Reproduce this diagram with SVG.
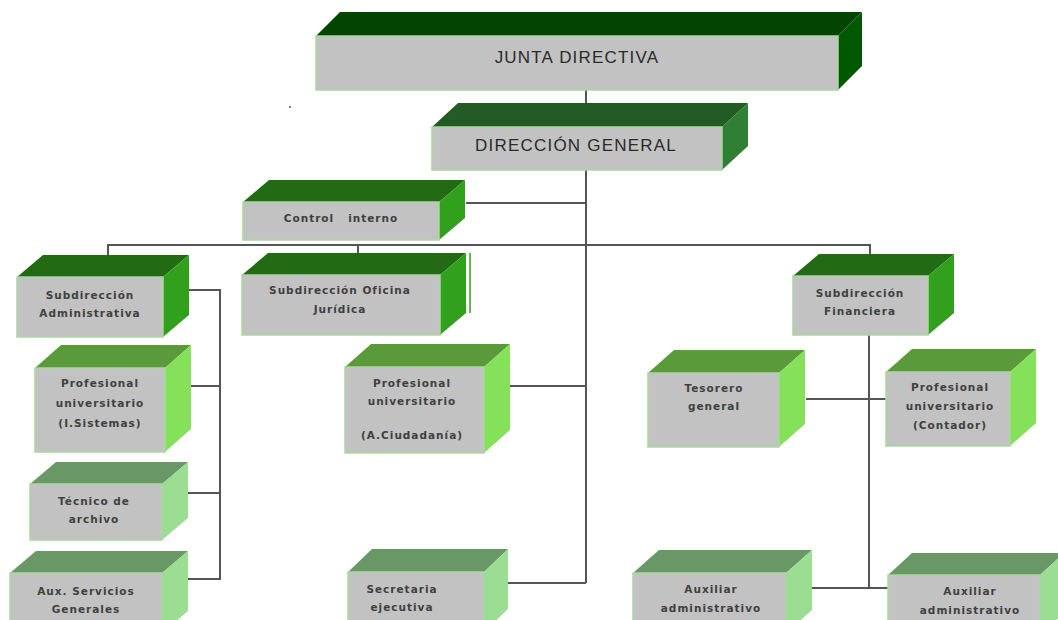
<svg xmlns="http://www.w3.org/2000/svg" width="1058" height="620" viewBox="0 0 1058 620">
<style>
.front{fill:#c2c2c2;stroke:#a9d79f;stroke-width:1.5}
.t1{fill:#024402}.r1{fill:#015801}
.t2{fill:#235b24}.r2{fill:#2f7f35}
.t3{fill:#236a15}.r3{fill:#31a01d}
.t4{fill:#5b9a3a}.r4{fill:#85e05a}
.t5{fill:#699866}.r5{fill:#9bdd92}
.big{font-family:"Liberation Sans","DejaVu Sans",sans-serif;font-size:17px;fill:#2a2a2a;text-anchor:middle;letter-spacing:1.2px}
.sm{font-family:"DejaVu Sans","Liberation Sans",sans-serif;font-size:10.5px;font-weight:bold;fill:#404040;text-anchor:middle;letter-spacing:1px;white-space:pre}
.ln{fill:none;stroke:#555;stroke-width:2}
</style>
<rect width="1058" height="620" fill="#fff"/>
<g id="connectors">
<path class="ln" d="M586 90V128M586 170V583M466 203H586M108 256V245H870V255M358 245V253M510 386H586M508 583H586"/>
<path class="ln" d="M188 290H220V580M190 386H220M188 493H220M188 579H220"/>
<path class="ln" d="M869 335V588M806 399H893M812 588H888"/>
<circle cx="290" cy="107" r="1" fill="#555"/>
</g>
<g id="junta">
<polygon class="t1" points="316,36 340,12 862,12 838,36"/>
<polygon class="r1" points="838,36 862,12 862,66 838,90"/>
<rect class="front" x="316" y="36" width="522" height="54"/>
<text class="big" x="577" y="63">JUNTA DIRECTIVA</text>
</g>
<g id="direccion">
<polygon class="t2" points="432,127 458,103 748,103 722,127"/>
<polygon class="r2" points="722,127 748,103 748,146 722,170"/>
<rect class="front" x="432" y="127" width="290" height="43"/>
<text class="big" x="576" y="151">DIRECCIÓN GENERAL</text>
</g>
<g id="control">
<polygon class="t3" points="243,202 269,180 465,180 439,202"/>
<polygon class="r3" points="439,202 465,180 465,218 439,240"/>
<rect class="front" x="243" y="202" width="196" height="38"/>
<text class="sm" x="341" y="222">Control   interno</text>
</g>
<g id="subadmin">
<polygon class="t3" points="17,277 43,255 189,255 163,277"/>
<polygon class="r3" points="163,277 189,255 189,315 163,337"/>
<rect class="front" x="17" y="277" width="146" height="60"/>
<text class="sm" x="90" y="299">Subdirección</text>
<text class="sm" x="90" y="317">Administrativa</text>
</g>
<g id="subjur">
<polygon class="t3" points="242,275 268,253 466,253 440,275"/>
<polygon class="r3" points="440,275 466,253 466,313 440,335"/>
<line x1="470" y1="253" x2="470" y2="313" stroke="#31a01d" stroke-width="1.5"/>
<rect class="front" x="242" y="275" width="198" height="60"/>
<text class="sm" x="340" y="294">Subdirección Oficina</text>
<text class="sm" x="340" y="313">Jurídica</text>
</g>
<g id="subfin">
<polygon class="t3" points="793,276 819,254 954,254 928,276"/>
<polygon class="r3" points="928,276 954,254 954,313 928,335"/>
<rect class="front" x="793" y="276" width="135" height="59"/>
<text class="sm" x="860" y="297">Subdirección</text>
<text class="sm" x="860" y="315">Financiera</text>
</g>
<g id="prof-sistemas">
<polygon class="t4" points="35,368 61,345 191,345 165,368"/>
<polygon class="r4" points="165,368 191,345 191,429 165,452"/>
<rect class="front" x="35" y="368" width="130" height="84"/>
<text class="sm" x="100" y="387">Profesional</text>
<text class="sm" x="100" y="407">universitario</text>
<text class="sm" x="100" y="427">(I.Sistemas)</text>
</g>
<g id="tecnico">
<polygon class="t5" points="30,484 56,462 188,462 162,484"/>
<polygon class="r5" points="162,484 188,462 188,518 162,540"/>
<rect class="front" x="30" y="484" width="132" height="56"/>
<text class="sm" x="94" y="505">Técnico de</text>
<text class="sm" x="94" y="523">archivo</text>
</g>
<g id="aux-servicios">
<polygon class="t5" points="10,573 36,551 188,551 162,573"/>
<polygon class="r5" points="162,573 188,551 188,611 162,633"/>
<rect class="front" x="10" y="573" width="152" height="60"/>
<text class="sm" x="86" y="595">Aux. Servicios</text>
<text class="sm" x="86" y="613">Generales</text>
</g>
<g id="prof-ciudadania">
<polygon class="t4" points="345,367 371,344 510,344 484,367"/>
<polygon class="r4" points="484,367 510,344 510,430 484,453"/>
<rect class="front" x="345" y="367" width="139" height="86"/>
<text class="sm" x="412" y="387">Profesional</text>
<text class="sm" x="412" y="405">universitario</text>
<text class="sm" x="412" y="439">(A.Ciudadanía)</text>
</g>
<g id="secretaria">
<polygon class="t5" points="348,572 372,549 508,549 484,572"/>
<polygon class="r5" points="484,572 508,549 508,609 484,632"/>
<rect class="front" x="348" y="572" width="136" height="60"/>
<text class="sm" x="402" y="593">Secretaria</text>
<text class="sm" x="402" y="611">ejecutiva</text>
</g>
<g id="tesorero">
<polygon class="t4" points="648,373 674,350 805,350 779,373"/>
<polygon class="r4" points="779,373 805,350 805,424 779,447"/>
<rect class="front" x="648" y="373" width="131" height="74"/>
<text class="sm" x="714" y="392">Tesorero</text>
<text class="sm" x="714" y="410">general</text>
</g>
<g id="prof-contador">
<polygon class="t4" points="886,372 912,349 1036,349 1010,372"/>
<polygon class="r4" points="1010,372 1036,349 1036,423 1010,446"/>
<rect class="front" x="886" y="372" width="124" height="74"/>
<text class="sm" x="950" y="391">Profesional</text>
<text class="sm" x="950" y="410">universitario</text>
<text class="sm" x="950" y="429">(Contador)</text>
</g>
<g id="aux-admin-1">
<polygon class="t5" points="633,573 659,550 812,550 786,573"/>
<polygon class="r5" points="786,573 812,550 812,610 786,633"/>
<rect class="front" x="633" y="573" width="153" height="60"/>
<text class="sm" x="711" y="593">Auxiliar</text>
<text class="sm" x="711" y="612">administrativo</text>
</g>
<g id="aux-admin-2">
<polygon class="t5" points="888,575 912,553 1064,553 1040,575"/>
<polygon class="r5" points="1040,575 1064,553 1064,613 1040,635"/>
<rect class="front" x="888" y="575" width="152" height="60"/>
<text class="sm" x="970" y="595">Auxiliar</text>
<text class="sm" x="970" y="614">administrativo</text>
</g>
</svg>
